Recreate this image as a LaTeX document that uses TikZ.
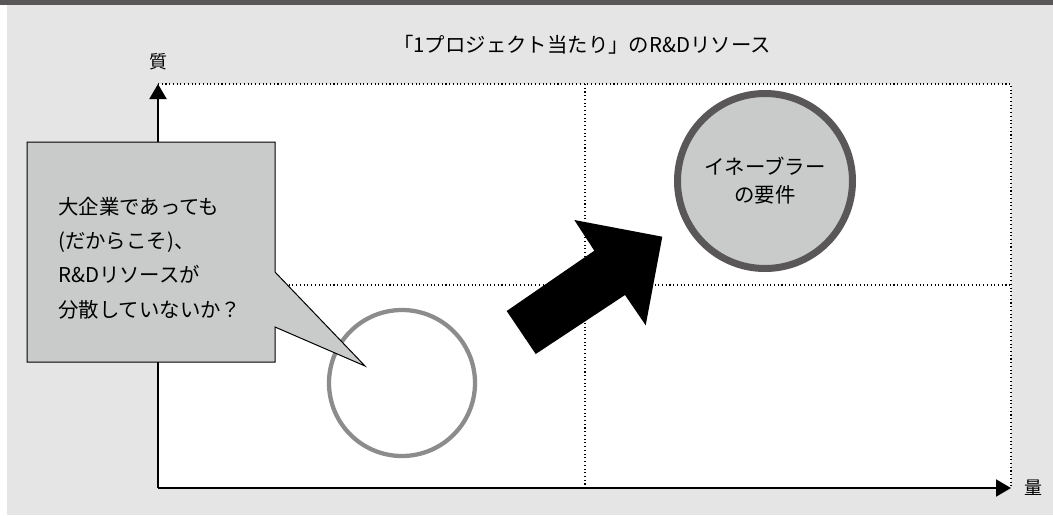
\documentclass[tikz,border=0pt]{standalone}
\usepackage{fontspec}
\setmainfont{Noto Sans CJK JP}
\usetikzlibrary{arrows.meta}
\definecolor{bar}{HTML}{595757}
\definecolor{bg}{HTML}{E5E5E5}
\definecolor{boxfill}{HTML}{C9CACA}
\definecolor{ringgray}{HTML}{8C8C8C}
\tikzset{
  axisline/.style={line width=1.5pt,-{Triangle[length=11.25pt,width=12.75pt]}},
  gridline/.style={line width=0.8pt,dotted},
  bodytext/.style={font=\fontsize{15.3pt}{25.7pt}\selectfont,inner sep=0pt},
  axislabel/.style={font=\fontsize{13.5pt}{15pt}\selectfont,inner sep=0pt},
}
\begin{document}
\begin{tikzpicture}[x=0.75pt,y=-0.75pt]
\useasboundingbox (0,0) rectangle (1053,515);
\fill[white] (0,0) rectangle (1053,515);
\fill[bg] (7,5) rectangle (1053,515);
\fill[bar] (0,0) rectangle (1053,5);
% plot area
\fill[white] (158,84) rectangle (1011,488);
\coordinate (o) at (158,488);
\coordinate (ytop) at (158,84);
\coordinate (xend) at (1011,488);
\coordinate (tr) at (1011,84);
\coordinate (mtop) at (585,84);
\coordinate (mbot) at (585,488);
\coordinate (mleft) at (158,285);
\coordinate (mright) at (1011,285);
\draw[gridline] (ytop) -- (tr) -- (xend);
\draw[gridline] (mtop) -- (mbot);
\draw[gridline] (mleft) -- (mright);
\draw[axisline] (o) -- (ytop);
\draw[axisline] (o) -- (xend);
\node[axislabel] (qual) at (158,62) {質};
\node[axislabel] (quant) at (1033,488) {量};
\node[bodytext] (title) at (582,45) {「1プロジェクト当たり」のR\&Dリソース};
% small circle
\node[draw=ringgray,line width=3.2pt,circle,minimum size=109.5pt,inner sep=0pt] (small) at (402,383) {};
% callout
\fill[boxfill,draw=black,line width=0.75pt] (27,142) -- (275,142) -- (275,272) -- (365,366) -- (275,327) -- (275,362) -- (27,362) -- cycle;
\node[bodytext,align=left,anchor=west] (callout) at (58,258) {大企業であっても\\(だからこそ)、\\R\&Dリソースが\\分散していないか？};
% big arrow
\fill[black] (535.7,354) -- (506.7,311) -- (594.3,250.7) -- (574.3,220) -- (662.3,236.7) -- (645.7,325.3) -- (625,295) -- cycle;
% big circle
\node[draw=bar,fill=boxfill,line width=5.25pt,circle,minimum size=131.25pt,inner sep=0pt,align=center,font=\fontsize{15.3pt}{21pt}\selectfont] (enabler) at (765,181) {イネーブラー\\の要件};
\end{tikzpicture}
\end{document}
